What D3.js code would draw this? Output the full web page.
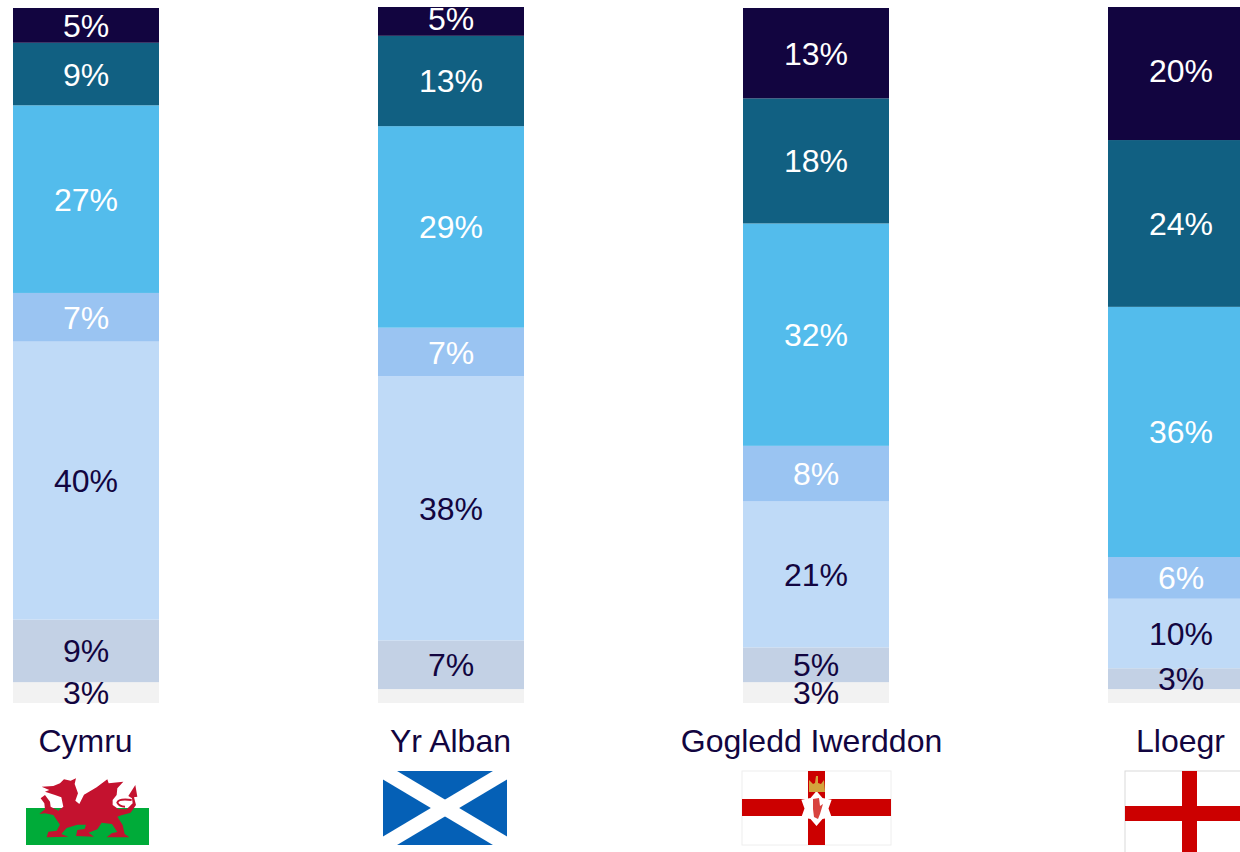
<!DOCTYPE html>
<html>
<head>
<meta charset="utf-8">
<script src="https://cdn.jsdelivr.net/npm/d3@7"></script>
<style>
  html, body { margin: 0; padding: 0; background: #fff; overflow: hidden; }
  svg { display: block; }
  text { font-family: "Liberation Sans", Arial, sans-serif; }
</style>
</head>
<body>
<script>
// Data, one list per stack band, bottom band first
const categories = ['Cymru', 'Yr Alban', 'Gogledd Iwerddon', 'Lloegr'];
const band1 = [3, 2, 3, 2];
const band2 = [9, 7, 5, 3];
const band3 = [40, 38, 21, 10];
const band4 = [7, 7, 8, 6];
const band5 = [27, 29, 32, 36];
const band6 = [9, 13, 18, 24];
const band7 = [5, 5, 13, 20];
const bands = [band1, band2, band3, band4, band5, band6, band7];
const bandKeys = ['band1', 'band2', 'band3', 'band4', 'band5', 'band6', 'band7'];
const bandColors = ['#f2f2f2', '#c3d1e5', '#bfdaf7', '#9ac4f2', '#53bcec', '#116082', '#120540'];
const labelColors = ['#120540', '#120540', '#120540', '#ffffff', '#ffffff', '#ffffff', '#ffffff'];

const width = 1240, height = 852;

const svg = d3.select('body').append('svg')
  .attr('width', width)
  .attr('height', height);

const x = d3.scaleBand()
  .domain(categories)
  .range([-96.5, 1363.5])
  .paddingInner(0.6)
  .paddingOuter(0.3);

const y = d3.scaleLinear().domain([0, 100]).range([703, 8]);

const rows = categories.map((c, i) => {
  const row = { category: c };
  bandKeys.forEach((k, j) => { row[k] = bands[j][i]; });
  return row;
});
const stacked = d3.stack().keys(bandKeys)(rows);

// The bars that add up to 101 run off the top of the picture
svg.append('clipPath').attr('id', 'plot-clip')
  .append('rect').attr('x', 0).attr('y', 7).attr('width', width).attr('height', height);

const plot = svg.append('g').attr('clip-path', 'url(#plot-clip)');

const layers = plot.selectAll('g.layer')
  .data(stacked)
  .join('g')
  .attr('class', 'layer');

layers.each(function(layer, j) {
  const g = d3.select(this);

  g.selectAll('rect')
    .data(layer)
    .join('rect')
    .attr('x', d => x(d.data.category))
    .attr('y', d => y(d[1]))
    .attr('width', x.bandwidth())
    .attr('height', d => y(d[0]) - y(d[1]))
    .attr('fill', bandColors[j]);
});

// Labels go on top of all the rects, the 2% slices have none
layers.each(function(layer, j) {
  plot.append('g').selectAll('text')
    .data(layer.filter(d => d[1] - d[0] >= 3))
    .join('text')
    .attr('x', d => x(d.data.category) + x.bandwidth() / 2)
    .attr('y', d => y((d[0] + d[1]) / 2))
    .attr('dy', '0.36em')
    .attr('text-anchor', 'middle')
    .attr('font-size', 32)
    .attr('fill', labelColors[j])
    .text(d => (d[1] - d[0]) + '%');
});

// Category names under the bars
svg.append('g').selectAll('text')
  .data(categories)
  .join('text')
  .attr('x', d => x(d) + x.bandwidth() / 2 - (d === 'Gogledd Iwerddon' ? 4.5 : 0.5))
  .attr('y', 752)
  .attr('text-anchor', 'middle')
  .attr('font-size', 32)
  .attr('fill', '#120540')
  .text(d => d);

// Flags
function flagGroup(cat, dx, w, h, id) {
  const cx = x(cat) + x.bandwidth() / 2 + dx;
  const g = svg.append('g').attr('transform', `translate(${cx - w / 2},771)`);
  g.append('clipPath').attr('id', id)
    .append('rect').attr('width', w).attr('height', h);
  return g;
}

// Wales
const wales = flagGroup('Cymru', 1.5, 123, 74, 'clip-wales');
wales.append('rect').attr('y', 37).attr('width', 123).attr('height', 37).attr('fill', '#00ab39');
const dragon = wales.append('g').attr('transform', 'translate(-26,-11) scale(0.3333)');
dragon.append('path')
  .attr('fill', '#c4122f')
  .attr('d', 'M125,80 L160,78 L180,70 L192,58 L212,62 L228,55 L224,72 L234,100 L226,122 L238,132 L252,104 L290,82 L322,58 L326,70 L370,65 L352,85 L350,105 L338,120 L338,135 L355,147 L380,148 L398,130 L396,115 L385,108 L406,75 L412,110 L402,112 L408,135 L392,158 L364,166 L352,170 L368,195 L374,222 L388,232 L320,232 L335,220 L352,216 L336,192 L305,188 L292,208 L266,218 L282,230 L228,228 L232,210 L254,207 L258,194 L232,194 L200,204 L184,222 L205,230 L140,232 L145,215 L170,212 L180,194 L160,165 L135,160 L118,162 L135,148 L133,130 L122,115 L135,105 L150,125 L152,140 L175,152 L190,140 L184,112 L165,105 L135,95 L148,90 Z');
dragon.append('path')
  .attr('fill', 'none')
  .attr('stroke', '#c4122f')
  .attr('stroke-width', 6)
  .attr('d', 'M395,120 Q355,115 352,128 Q358,140 375,140');

// Scotland
const scot = flagGroup('Yr Alban', -6, 124, 74, 'clip-scot');
scot.append('rect').attr('width', 124).attr('height', 74).attr('fill', '#0560b6');
scot.append('g').attr('clip-path', 'url(#clip-scot)')
  .selectAll('line')
  .data([[0, 0, 124, 74], [0, 74, 124, 0]])
  .join('line')
  .attr('x1', d => d[0]).attr('y1', d => d[1])
  .attr('x2', d => d[2]).attr('y2', d => d[3])
  .attr('stroke', '#fff')
  .attr('stroke-width', 14.4);

// Northern Ireland
const ni = flagGroup('Gogledd Iwerddon', 0.5, 149, 74, 'clip-ni');
ni.append('rect').attr('width', 149).attr('height', 74)
  .attr('fill', '#fff').attr('stroke', '#eeeeee');
ni.append('rect').attr('x', 66).attr('width', 17).attr('height', 74).attr('fill', '#cc0000');
ni.append('rect').attr('y', 28).attr('width', 149).attr('height', 17).attr('fill', '#cc0000');
const star = d3.range(12).map(i => {
  const r = i % 2 ? 12 : 17.5;
  const a = i * Math.PI / 6;
  return [74.5 + r * Math.sin(a), 37.5 - r * Math.cos(a)];
});
ni.append('path').attr('fill', '#fff').attr('d', d3.line()(star) + 'Z');
ni.append('path').attr('fill', '#d8433f')
  .attr('d', 'M71,28 L77,27 L78,35 L81,33 L78,43 L76,48 L72,46 L71,38 Z');
ni.append('path').attr('fill', '#d4a33c')
  .attr('d', 'M67,9 L71,13 L73,12 L74,5 L76,5 L76,12 L79,13 L82,9 L83,21 L67,21 Z');

// England, runs off the right edge
const eng = flagGroup('Lloegr', 8.5, 129, 85, 'clip-eng');
eng.append('rect').attr('width', 129).attr('height', 85)
  .attr('fill', '#fff').attr('stroke', '#d9d9d9');
eng.append('rect').attr('x', 57).attr('width', 15).attr('height', 85).attr('fill', '#cc0000');
eng.append('rect').attr('y', 35).attr('width', 129).attr('height', 15).attr('fill', '#cc0000');
</script>
</body>
</html>
